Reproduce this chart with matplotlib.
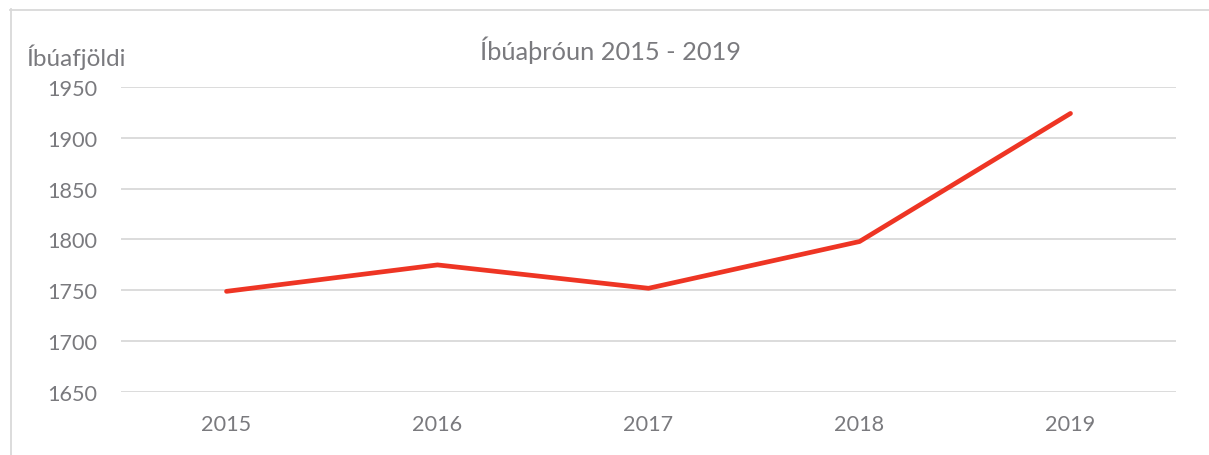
import matplotlib
matplotlib.use("Agg")
import matplotlib.pyplot as plt
from matplotlib.lines import Line2D

years = ["2015", "2016", "2017", "2018", "2019"]
population = [1749, 1775, 1752, 1798, 1924]
y_ticks = [1650, 1700, 1750, 1800, 1850, 1900, 1950]
title = "Íbúaþróun 2015 - 2019"
y_label = "Íbúafjöldi"

TEXT = "#7a7a7e"
GRID = "#d9d9d9"
RED = "#ee3524"
plt.rcParams["font.family"] = ["Lato", "DejaVu Sans"]

W, H = 1209, 456
fig = plt.figure(figsize=(W / 100, H / 100), dpi=100)
ax = fig.add_axes([121 / W, 1 - 393 / H, (1176 - 121) / W, (393 - 88) / H])

x = list(range(len(years)))
ax.plot(x, population, color=RED, lw=3.4, solid_capstyle="round", solid_joinstyle="round", zorder=3)

ax.set_xlim(-0.5, len(years) - 0.5)
ax.set_ylim(y_ticks[0], y_ticks[-1])
ax.set_yticks(y_ticks)
ax.set_yticklabels([str(v) for v in y_ticks])
ax.set_xticks(x)
ax.set_xticklabels(years)
ax.grid(axis="y", color=GRID, lw=1.3)
ax.set_axisbelow(True)
for s in ax.spines.values():
    s.set_visible(False)
ax.tick_params(axis="both", length=0, labelsize=15.6, colors=TEXT)
ax.tick_params(axis="y", pad=17.3)
ax.tick_params(axis="x", pad=16)

fig.text(610 / W, 1 - 50 / H, title, ha="center", va="center", fontsize=18.3, color=TEXT)
fig.text(26 / W, 1 - 57 / H, y_label, ha="left", va="center", fontsize=17.5, color=TEXT)

fig.add_artist(Line2D([10.5 / W, 10.5 / W], [0, 1 - 10 / H], transform=fig.transFigure, color=GRID, lw=1.3))
fig.add_artist(Line2D([10 / W, 1], [1 - 10.5 / H, 1 - 10.5 / H], transform=fig.transFigure, color=GRID, lw=1.3))

fig.savefig("out.png", dpi=100)
